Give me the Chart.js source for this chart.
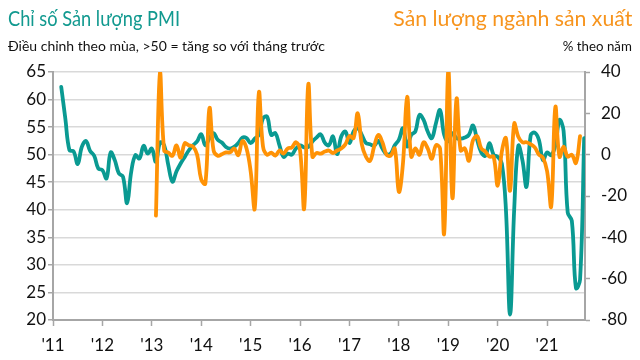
<!DOCTYPE html>
<html><head><meta charset="utf-8">
<script src="https://cdn.jsdelivr.net/npm/chart.js@4.4.0/dist/chart.umd.min.js"></script>
<style>
html,body{margin:0;padding:0;background:#fff;}
#wrap{position:relative;width:640px;height:360px;overflow:hidden;background:#fff;}
canvas{position:absolute;left:0;top:0;}
.t{position:absolute;white-space:nowrap;font-family:Lato,sans-serif;line-height:1;}
.l{transform-origin:left top;}
.r{transform-origin:right top;}
</style></head><body>
<div id="wrap">
<canvas id="c" width="640" height="360"></canvas>
<div class="t l" id="t1" data-w="172" style="left:8px;top:7px;font-size:21px;color:#11998f;">Chỉ số Sản lượng PMI</div>
<div class="t r" id="t2" data-w="239" style="right:8px;top:7px;font-size:21px;color:#f7941d;">Sản lượng ngành sản xuất</div>
<div class="t l" id="t3" data-w="317" style="left:8px;top:39px;font-size:14px;color:#111;">Điều chỉnh theo mùa, &gt;50 = tăng so với tháng trước</div>
<div class="t r" id="t4" data-w="69" style="right:8px;top:39px;font-size:14px;color:#111;">% theo năm</div>
</div>
<script>
// x positions are month indices: 0 = Jan 2011
const yearLabels = ["'11","'12","'13","'14","'15","'16","'17","'18","'19","'20","'21"];
const leftTicks = [20,25,30,35,40,45,50,55,60,65];
const rightTicks = [-80,-60,-40,-20,0,20,40];

// PMI output index (seasonally adjusted), starting Mar 2011
const pmiStart = 2;
const pmiOutput = [
 62.3,56.5,50.8,50.6,48.3,51.4,52.5,50.7,49.8,47.5,
 47.2,45.7,50.4,49.0,46.6,46.0,41.2,46.9,49.9,49.3,
 51.6,50.2,51.1,48.7,52.2,51.7,48.1,45.1,47.0,48.4,
 49.6,50.8,51.7,52.4,53.7,51.7,53.0,53.9,52.7,52.2,
 51.4,51.1,51.4,52.1,53.1,53.0,52.1,52.9,53.6,56.6,
 56.9,53.6,53.9,51.7,49.6,50.2,50.0,51.1,51.7,51.3,
 51.4,52.4,53.1,53.7,52.2,51.7,53.3,50.1,53.3,54.2,
 52.1,54.2,54.8,53.6,52.1,51.9,51.6,52.5,51.1,50.1,
 50.2,51.7,52.7,54.8,51.5,53.6,54.2,57.2,56.3,54.2,
 53.0,55.7,58.1,53.6,52.4,53.9,53.0,52.9,53.1,53.6,
 55.3,52.7,50.4,49.8,52.1,50.0,49.6,48.4,40.0,21.0,
 40.0,51.6,49.0,44.2,53.5,54.0,52.7,49.0,50.4,49.9,
 51.7,56.3,54.3,39.5,38.0,25.8,27.3,53.0
];

// Manufacturing production, % y/y, starting Feb 2013
const ipStart = 25;
const ipYoY = [
 -29.5,40,2,1,-0.5,4.5,-1.5,5.5,4.5,4,
 0,-12,-14,22.5,2,-0.5,0.2,1.1,1.1,3,
 -0.2,6.6,3,-8,-26,30,4,0,1,-0.5,
 2,0.5,3,3.5,6,2,-26,34,-1,0.8,
 0.5,1.5,2,0.8,2,3,5,9,8,20,
 5,-1,-3,4,9.5,6,0,-0.5,3,-18,
 -4,28,-1,3,0,6,3,-2,4.5,3,
 -38,41,-21,27,2,3,-3,7,9,3,
 1.5,-1,-1,-15,1.5,8,-17.5,15,8.7,6,
 6,5,3.5,0,-1.5,-8,-25,23,-1,3.9,
 -1,0,-4,9
];

const teal = '#0a9a92';
const orange = '#ff9205';
const axisGray = '#a6a6a6';
const gridGray = '#d9d9d9';
const tickFont = {family: 'Lato', size: 17};

const pmiPts = pmiOutput.map((v,i)=>({x: pmiStart+i, y: v}));
const ipPts = ipYoY.map((v,i)=>({x: ipStart+i, y: v}));

function fitTitles(){
  document.querySelectorAll('.t').forEach(el=>{
    el.style.transform='none';
    const w = el.getBoundingClientRect().width;
    const target = parseFloat(el.dataset.w);
    el.style.transform = 'scaleX(' + (target/w) + ')';
  });
}

function draw(){
  fitTitles();
  new Chart(document.getElementById('c'), {
    type: 'line',
    data: {
      datasets: [
        {label: 'Sản lượng ngành sản xuất', data: ipPts, yAxisID: 'y2', borderColor: orange, backgroundColor: orange,
         borderWidth: 3.8, pointRadius: 0, tension: 0.4, order: 0, borderCapStyle: 'round', borderJoinStyle: 'round'},
        {label: 'Chỉ số Sản lượng PMI', data: pmiPts, yAxisID: 'y', borderColor: teal, backgroundColor: teal,
         borderWidth: 3.8, pointRadius: 0, tension: 0.4, order: 1, borderCapStyle: 'round', borderJoinStyle: 'round'}
      ]
    },
    options: {
      responsive: false, animation: false,
      layout: {padding: {top: 72, left: 0, right: 0, bottom: 0}},
      plugins: {legend: {display: false}, tooltip: {enabled: false}},
      scales: {
        x: {
          type: 'linear', min: 0, max: 129.2,
          afterBuildTicks: s => { s.ticks = yearLabels.map((l,i)=>({value: i*12})); },
          afterFit: s => { s.height = 40; },
          ticks: {callback: (v) => yearLabels[Math.round(v/12)], font: tickFont, color: '#111', padding: 9, maxRotation: 0, autoSkip: false},
          grid: {drawOnChartArea: false, drawTicks: true, tickLength: 6, tickColor: axisGray, tickWidth: 1.5},
          border: {color: axisGray, width: 2}
        },
        y: {
          position: 'left', min: 20, max: 65,
          afterBuildTicks: s => { s.ticks = leftTicks.map(v=>({value: v})); },
          afterFit: s => { s.width = 53; },
          ticks: {font: tickFont, color: '#111', padding: 2},
          grid: {color: gridGray, lineWidth: 1.5, drawTicks: true, tickLength: 5, tickColor: axisGray, tickWidth: 1.5},
          border: {color: axisGray, width: 2}
        },
        y2: {
          position: 'right', min: -80, max: 40,
          afterBuildTicks: s => { s.ticks = rightTicks.map(v=>({value: v})); },
          afterFit: s => { s.width = 55; },
          ticks: {font: tickFont, color: '#111', padding: 11},
          grid: {drawOnChartArea: false, drawTicks: true, tickLength: 5, tickColor: axisGray, tickWidth: 1.5},
          border: {color: axisGray, width: 2}
        }
      }
    }
  });
}
if (document.fonts && document.fonts.load) {
  Promise.all([document.fonts.load('17px Lato'), document.fonts.load('21px Lato')]).then(draw, draw);
} else { draw(); }
</script>
</body></html>
